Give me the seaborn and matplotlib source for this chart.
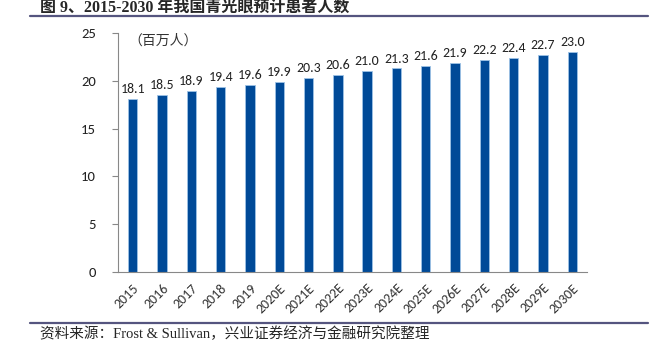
import numpy as np
import pandas as pd
import seaborn as sns
import matplotlib.pyplot as plt

years = ['2015', '2016', '2017', '2018', '2019', '2020E', '2021E', '2022E',
         '2023E', '2024E', '2025E', '2026E', '2027E', '2028E', '2029E', '2030E']
patients = [18.1, 18.5, 18.9, 19.4, 19.6, 19.9, 20.3, 20.6,
            21.0, 21.3, 21.6, 21.9, 22.2, 22.4, 22.7, 23.0]

df = pd.DataFrame({'year': years, 'patients': patients})

sns.set_style('white')
plt.rcParams['font.family'] = ['Carlito', 'DejaVu Sans', 'Noto Sans CJK SC']

fig = plt.figure(figsize=(6.54, 3.51), dpi=100)
ax = fig.add_axes([118/654, 1 - 272/351, (587-118)/654, (272-33)/351])

sns.barplot(data=df, x='year', y='patients', color='#004A98', width=0.32,
            edgecolor='#9dc3e6', linewidth=0.6, saturation=1, ax=ax)

for i, v in enumerate(patients):
    ax.text(i, v + 0.4, '{:.1f}'.format(v), ha='center', va='bottom',
            fontsize=10, color='#222222')

ax.set_ylim(0, 25)
ax.set_xlim(-0.5, len(years) - 0.5)
ax.set_yticks(range(0, 26, 5))
ax.set_xlabel('')
ax.set_ylabel('')

for s in ['top', 'right']:
    ax.spines[s].set_visible(False)
for s in ['left', 'bottom']:
    ax.spines[s].set_color('#888888')
    ax.spines[s].set_linewidth(0.8)

ax.set_xticks(np.arange(len(years)))
ax.set_xticklabels(years, rotation=45, ha='right', rotation_mode='anchor',
                   fontsize=10, color='#333333')
ax.tick_params(axis='x', length=0, pad=7)
ax.set_xticks(np.arange(-0.5, len(years)), minor=True)
ax.tick_params(axis='x', which='minor', length=4, color='#888888', width=0.8)
ax.tick_params(axis='y', length=4, color='#888888', width=0.8, labelsize=10.5,
               labelcolor='#222222', left=True, pad=12)

ax.text(-0.15, 24.2, '（百万人）', fontsize=10, color='#333333',
        family=['Noto Sans CJK SC'], va='center')

fig.text(40/654, 1 - 8/351, '图 9、2015-2030 年我国青光眼预计患者人数',
         fontsize=11.5, fontweight='bold', va='center',
         family=['Liberation Serif', 'Noto Sans CJK SC'])
fig.text(40/654, 1 - 334/351, '资料来源：Frost & Sullivan，兴业证券经济与金融研究院整理',
         fontsize=10.5, va='center',
         family=['Liberation Serif', 'Noto Sans CJK SC'])

fig.add_artist(plt.Line2D([30/654, 648/654], [1 - 16/351, 1 - 16/351],
                          color='#55557f', linewidth=1.6))
fig.add_artist(plt.Line2D([30/654, 648/654], [1 - 323/351, 1 - 323/351],
                          color='#55557f', linewidth=1.6))

fig.savefig('out.png', dpi=100)
